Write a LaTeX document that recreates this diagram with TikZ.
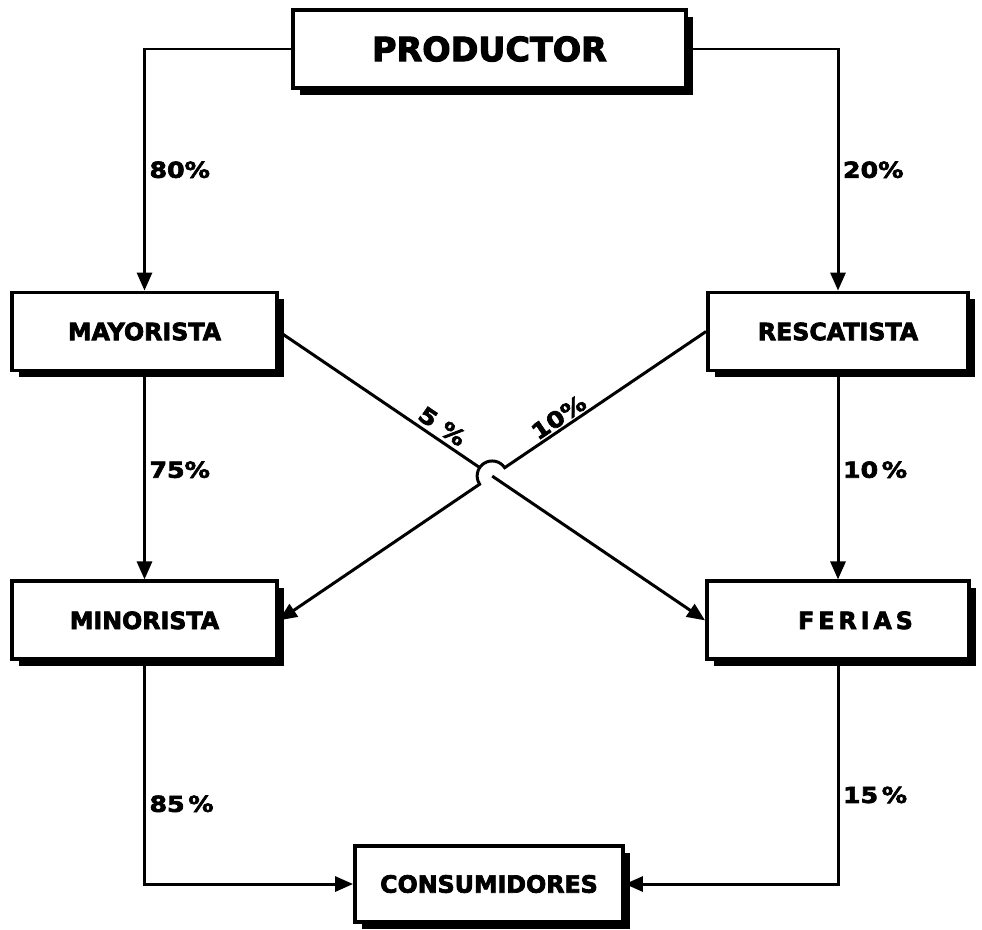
\documentclass[tikz,border=0pt]{standalone}
\usepackage{fontspec}
\usepackage{tikz}
\usetikzlibrary{arrows.meta,positioning,shadows,calc}
\newfontfamily\cajafont{DejaVu Sans Bold}[FakeBold=3]
\newfontfamily\pctfont{DejaVu Sans Bold}[FakeStretch=1.15, FakeBold=3]

\begin{document}
\begin{tikzpicture}[
      caja/.style={draw, line width=2.2pt, fill=white,
                   minimum width=5.3cm, minimum height=1.56cm,
                   font=\cajafont\fontsize{13.5}{16}\selectfont,
                   drop shadow={shadow xshift=0.13cm, shadow yshift=-0.13cm,
                                fill=black, opacity=1}},
      pct/.style={font=\pctfont\fontsize{12.5}{14}\selectfont, inner sep=2pt},
      flecha/.style={-{Triangle[length=0.36cm, width=0.3cm]}, line width=1.7pt},
      linea/.style={line width=1.7pt}
  ]
    \useasboundingbox (0,0) rectangle (19.64,-18.58);
    \node[caja, minimum width=7.86cm,
          font=\cajafont\fontsize{19}{22}\selectfont] (prod) at (9.79,-0.98) {PRODUCTOR};
    \node[caja] (mayo) at (2.89,-6.63) {MAYORISTA};
    \node[caja, minimum width=5.2cm] (resc) at (16.76,-6.63) {RESCATISTA};
    \node[caja, below=4.14cm of mayo] (mino) {MINORISTA};
    \node[caja, minimum width=5.24cm, below=4.14cm of resc] (fer) {\hspace{0.7cm}F\,E\,R\,I\,A\,S};
    \node[caja, minimum width=5.36cm, minimum height=1.52cm] (cons) at (9.78,-17.68) {CONSUMIDORES};

    \draw[flecha] (prod.west) -| node[pct, right, pos=0.75] {80\%} (mayo.north);
    \draw[flecha] (prod.east) -| node[pct, right, pos=0.75] {20\%} (resc.north);
    \draw[flecha] (mayo) -- node[pct, right, pos=0.47] {75\%} (mino);
    \draw[flecha] (resc) -- node[pct, right, pos=0.47] {10\,\%} (fer);
    \draw[flecha] (mino.south) |- node[pct, right, pos=0.32] {85\,\%} (cons.west);
    \draw[flecha] (fer.south) |- node[pct, right, pos=0.3] {15\,\%} (cons.east);

    % cruce de las diagonales
    \coordinate (X) at (intersection of mayo.east--fer.west and resc.west--mino.east);
    \draw[linea] (mayo.east) -- node[pct, sloped, above, pos=0.78] {5 \%} ($(X)!0.32cm!(mayo.east)$);
    \draw[flecha] (X) -- (fer.west);
    \draw[flecha] (resc.west) -- node[pct, sloped, above, pos=0.7, inner sep=1pt] {10\%} ($(X)!0.3cm!(resc.west)$)
        arc[start angle=33.4, end angle=213.4, radius=0.3cm] -- (mino.east);
  \end{tikzpicture}
\end{document}
